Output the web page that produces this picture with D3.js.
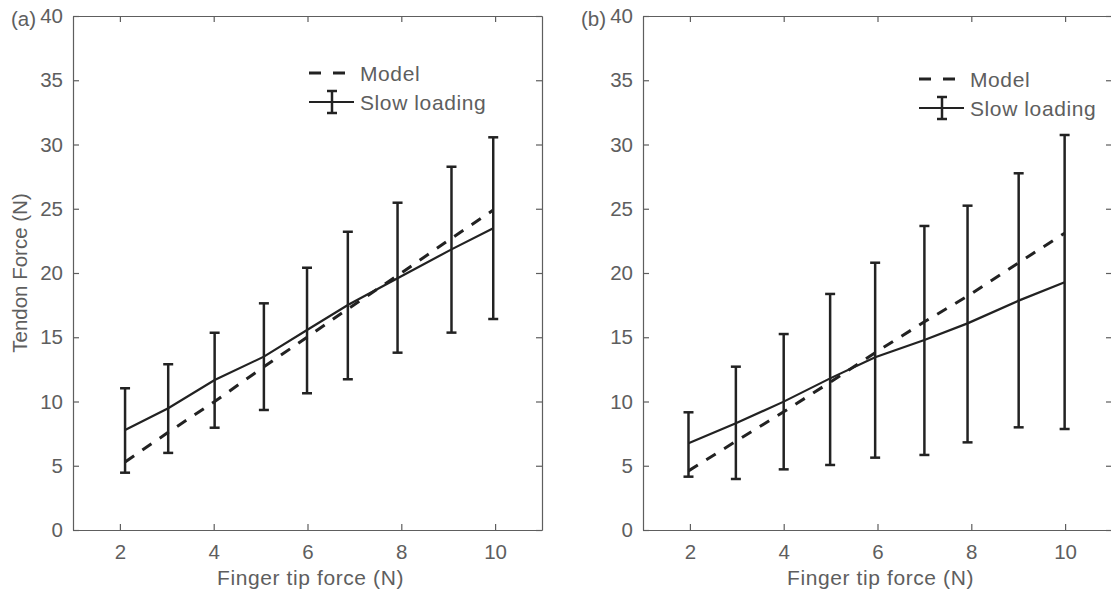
<!DOCTYPE html>
<html>
<head>
<meta charset="utf-8">
<script src="https://cdn.jsdelivr.net/npm/d3@7"></script>
<style>
  body { margin: 0; background: #fff; }
  text { font-family: "Liberation Sans", Arial, Helvetica, sans-serif; fill: #5e5e5e; }
</style>
</head>
<body>
<svg id="chart" width="1111" height="594"></svg>
<script>
// panel (a)
var xA     = [2.11, 3.03, 4.02, 5.07, 5.99, 6.86, 7.92, 9.07, 9.96];
var meanA  = [7.78, 9.47, 11.67, 13.49, 15.56, 17.51, 19.59, 21.84, 23.48];
var hiA    = [11.03, 12.9, 15.35, 17.64, 20.41, 23.21, 25.47, 28.27, 30.56];
var loA    = [4.46, 6.0, 7.96, 9.34, 10.64, 11.73, 13.8, 15.36, 16.42];
var modelA = [5.3, 7.6, 10.0, 12.7, 15.0, 17.2, 19.8, 22.7, 24.9];

// panel (b)
var xB     = [1.97, 2.98, 4.0, 4.99, 5.95, 7.0, 7.92, 9.01, 9.99];
var meanB  = [6.75, 8.3, 9.99, 11.8, 13.44, 14.79, 16.08, 17.85, 19.28];
var hiB    = [9.16, 12.71, 15.25, 18.37, 20.8, 23.66, 25.24, 27.76, 30.74];
var loB    = [4.15, 3.97, 4.72, 5.06, 5.63, 5.84, 6.82, 7.99, 7.86];
var modelB = [4.6, 6.9, 9.2, 11.5, 13.8, 16.2, 18.2, 20.8, 23.1];

var xTicks = [2, 4, 6, 8, 10];
var yTicks = [0, 5, 10, 15, 20, 25, 30, 35, 40];
var legendLabels = ["Model", "Slow loading"];
var xTitle = "Finger tip force (N)";
var yTitle = "Tendon Force (N)";

var svg = d3.select("#chart");
var axisCol = "#5e5e5e", ink = "#222";
var top_ = 16, bottom = 530;

function drawPanel(left, right, tag, xs, mean, hi, lo, model, leg, showY){
	var x = d3.scaleLinear().domain([1, 11]).range([left, right]);
	var y = d3.scaleLinear().domain([0, 40]).range([bottom, top_]);
	var g = svg.append("g");

	// axes with inward ticks, box on
	var ax = g.append("g").attr("transform", "translate(0," + bottom + ")")
		.call(d3.axisBottom(x).tickValues(xTicks).tickSizeInner(-6).tickSizeOuter(0).tickPadding(14));
	var axT = g.append("g").attr("transform", "translate(0," + top_ + ")")
		.call(d3.axisTop(x).tickValues(xTicks).tickSizeInner(-6).tickSizeOuter(0).tickFormat(""));
	var ay = g.append("g").attr("transform", "translate(" + left + ",0)")
		.call(d3.axisLeft(y).tickValues(yTicks).tickSizeInner(-6).tickSizeOuter(0).tickPadding(10));
	var ayR = g.append("g").attr("transform", "translate(" + right + ",0)")
		.call(d3.axisRight(y).tickValues(yTicks).tickSizeInner(-6).tickSizeOuter(0).tickFormat(""));
	[ax, axT, ay, ayR].forEach(function(a){
		a.selectAll("path,line").attr("stroke", axisCol).attr("stroke-width", 1.2);
		a.selectAll("text").style("font-size", "20.5px").attr("fill", axisCol);
	});
	ax.selectAll("text").attr("dy", "0.71em");

	g.append("text").attr("x", (left + right) / 2 + 3).attr("y", 585)
		.attr("text-anchor", "middle").style("font-size", "21px").style("letter-spacing", "0.6px")
		.text(xTitle);
	if(showY){
		g.append("text").attr("transform", "translate(27," + ((top_ + bottom) / 2) + ") rotate(-90)")
			.attr("text-anchor", "middle").style("font-size", "20.5px")
			.text(yTitle);
	}
	g.append("text").attr("x", left - 62).attr("y", 26).style("font-size", "20.5px").text(tag);

	// model dashed line
	var pts = xs.map(function(d, i){ return [x(d), y(model[i])]; });
	g.append("path").attr("d", d3.line()(pts)).attr("fill", "none")
		.attr("stroke", ink).attr("stroke-width", 3).attr("stroke-dasharray", "11,10");

	// mean line
	var mpts = xs.map(function(d, i){ return [x(d), y(mean[i])]; });
	g.append("path").attr("d", d3.line()(mpts)).attr("fill", "none")
		.attr("stroke", ink).attr("stroke-width", 2.2);

	// error bars
	xs.forEach(function(d, i){
		var cx = x(d);
		g.append("line").attr("x1", cx).attr("x2", cx).attr("y1", y(lo[i])).attr("y2", y(hi[i]))
			.attr("stroke", ink).attr("stroke-width", 2.5);
		[lo[i], hi[i]].forEach(function(v){
			g.append("line").attr("x1", cx - 5).attr("x2", cx + 5).attr("y1", y(v)).attr("y2", y(v))
				.attr("stroke", ink).attr("stroke-width", 2.5);
		});
	});

	// legend
	g.append("line").attr("x1", leg.x).attr("x2", leg.x + 36).attr("y1", leg.y).attr("y2", leg.y)
		.attr("stroke", ink).attr("stroke-width", 3).attr("stroke-dasharray", "12,12");
	var ly = leg.y + 29;
	g.append("line").attr("x1", leg.x).attr("x2", leg.x + 45).attr("y1", ly).attr("y2", ly)
		.attr("stroke", ink).attr("stroke-width", 2.2);
	g.append("line").attr("x1", leg.x + 23).attr("x2", leg.x + 23).attr("y1", ly - 11).attr("y2", ly + 11)
		.attr("stroke", ink).attr("stroke-width", 2.5);
	[ly - 11, ly + 11].forEach(function(v){
		g.append("line").attr("x1", leg.x + 18).attr("x2", leg.x + 28).attr("y1", v).attr("y2", v)
			.attr("stroke", ink).attr("stroke-width", 2.5);
	});
	legendLabels.forEach(function(t, i){
		g.append("text").attr("x", leg.x + 51).attr("y", leg.y + i * 29).attr("dy", "0.36em")
			.style("font-size", "21px").style("letter-spacing", "0.6px").text(t);
	});
}

drawPanel(73, 542, "(a)", xA, meanA, hiA, loA, modelA, {x: 309, y: 73}, true);
drawPanel(643, 1112, "(b)", xB, meanB, hiB, loB, modelB, {x: 919, y: 79}, false);
</script>
</body>
</html>
